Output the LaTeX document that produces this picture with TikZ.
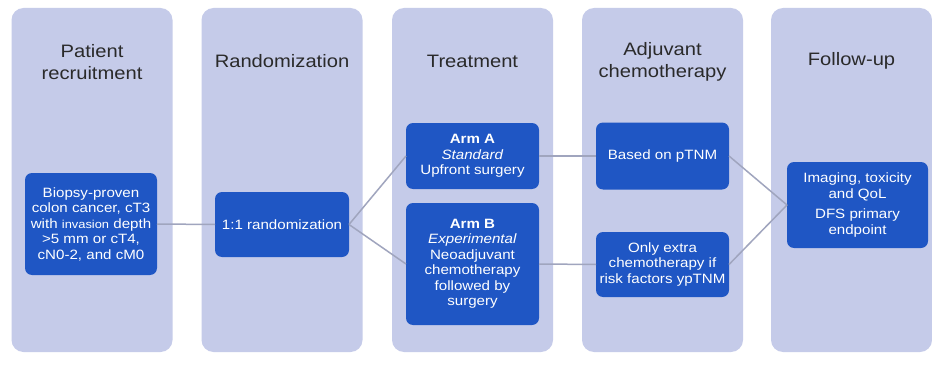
\documentclass[tikz,border=0pt]{standalone}
\usepackage{fontspec}
\setmainfont{Liberation Sans}[FakeStretch=1.12]
\definecolor{colfill}{HTML}{C5CBE9}
\definecolor{boxfill}{HTML}{1F56C4}
\definecolor{linegray}{HTML}{A0A5BE}
\definecolor{titlegray}{HTML}{2A2A2A}
\tikzset{
  column/.style={fill=colfill, draw=none, rounded corners=12pt, minimum width=161pt, minimum height=344pt, inner sep=0pt, outer sep=0pt},
  coltitle/.style={text=titlegray, align=center, font=\fontsize{18}{22}\selectfont, inner sep=0pt},
  bluebox/.style={fill=boxfill, draw=none, rounded corners=7pt, text=white, align=center, inner sep=0pt, outer sep=0pt, font=\fontsize{13.5}{15.5}\selectfont},
  conn/.style={draw=linegray, line width=1.5pt}
}
\begin{document}
\begin{tikzpicture}[x=1pt,y=-1pt]
\useasboundingbox (0,0) rectangle (932,369);
\fill[white] (0,0) rectangle (932,369);
% columns
\node[column] (c1) at (92,180) {};
\node[column] (c2) at (282,180) {};
\node[column] (c3) at (472.5,180) {};
\node[column] (c4) at (662.5,180) {};
\node[column] (c5) at (851.5,180) {};
% titles
\node[coltitle] (t1) at (92,62) {Patient\\recruitment};
\node[coltitle] (t2) at (282,61) {Randomization};
\node[coltitle] (t3) at (472.5,61) {Treatment};
\node[coltitle] (t4) at (662.5,62) {Adjuvant\\chemotherapy};
\node[coltitle] (t5) at (851.5,61) {Follow-up};
% boxes
\node[bluebox, minimum width=132pt, minimum height=102pt] (b1) at (91,224)
  {Biopsy-proven\\colon cancer, cT3\\with {\fontsize{11.5}{15.5}\selectfont invasion} depth\\>5 mm or cT4,\\cN0-2, and cM0};
\node[bluebox, minimum width=134pt, minimum height=65pt] (b2) at (282,224.5)
  {1:1 randomization};
\node[bluebox, minimum width=133pt, minimum height=66pt] (bA) at (472.5,156)
  {\textbf{Arm A}\\\textit{Standard}\\Upfront surgery};
\node[bluebox, minimum width=133pt, minimum height=122pt] (bB) at (472.5,264)
  {\textbf{Arm B}\\\textit{Experimental}\\Neoadjuvant\\chemotherapy\\followed by\\surgery};
\node[bluebox, minimum width=133pt, minimum height=67pt] (bC) at (662.5,156)
  {Based on pTNM};
\node[bluebox, minimum width=133pt, minimum height=65pt] (bD) at (662.5,264.5)
  {Only extra\\chemotherapy if\\risk factors ypTNM};
\node[bluebox, minimum width=141pt, minimum height=86pt] (bE) at (857.5,205)
  {Imaging, toxicity\\and QoL\\[5pt]DFS primary\\endpoint};
% connectors
\draw[conn] (b1.east) -- (b2.west);
\draw[conn] (b2.east) -- (bA.west);
\draw[conn] (b2.east) -- (bB.west);
\draw[conn] (bA.east) -- (bC.west);
\draw[conn] (bB.east) -- (bD.west);
\draw[conn] (bC.east) -- (bE.west);
\draw[conn] (bD.east) -- (bE.west);
\end{tikzpicture}
\end{document}
